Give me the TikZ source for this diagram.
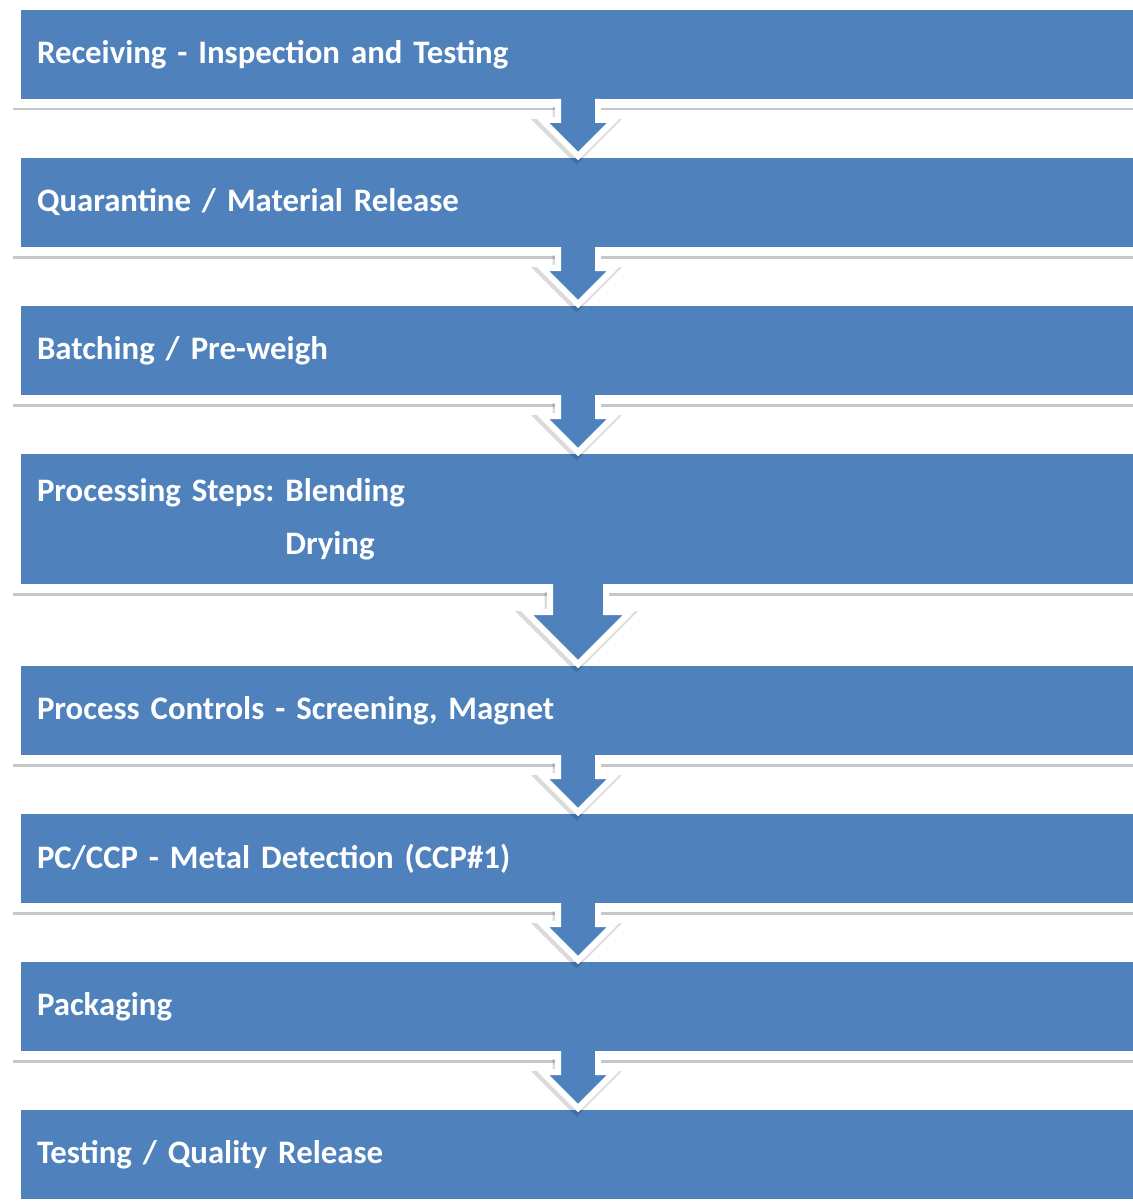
\documentclass[tikz,border=0pt]{standalone}
\usepackage{fontspec}
\setmainfont{Carlito}
\usetikzlibrary{calc,shadows}
\definecolor{boxblue}{RGB}{79,129,189}
\tikzset{
  stepbox/.style={rectangle, anchor=north west, fill=boxblue, draw=white,
    line width=9pt, minimum width=1123.5pt, minimum height=98pt,
    text width=1082.5pt, inner xsep=20.5pt, inner ysep=0pt, align=left,
    text=white, font=\fontsize{32.8}{53}\selectfont\bfseries\frenchspacing, outer sep=0pt,
    drop shadow={shadow xshift=-4pt, shadow yshift=-7pt, opacity=0.22, fill=black}},
  flowarrow/.style={fill=boxblue, draw=white, line width=6pt, line join=miter},
  arrowshadow/.style={draw=black, opacity=0.14, line width=8pt, line join=miter}
}
% from, to, shaft half width, head half width
\newcommand\flowarrow[4]{%
  \path[arrowshadow] let \p1=($(#1.south -| cx)+(-1.5,3.5)$),
                       \p2=($(#2.north -| cx)+(-1.5,5.5)$) in
    (\x1-#3pt,\y1) -- (\x1-#3pt,\y2+#4pt) -- (\x1-#4pt,\y2+#4pt) -- (\p2)
    -- (\x1+#4pt,\y2+#4pt) -- (\x1+#3pt,\y2+#4pt) -- (\x1+#3pt,\y1);
  \path[flowarrow] let \p1=($(#1.south -| cx)+(0,-4.5)$),
                       \p2=($(#2.north -| cx)+(0,2.5)$) in
    (\x1-#3pt,\y1) -- (\x1-#3pt,\y2+#4pt) -- (\x1-#4pt,\y2+#4pt) -- (\p2)
    -- (\x1+#4pt,\y2+#4pt) -- (\x1+#3pt,\y2+#4pt) -- (\x1+#3pt,\y1);
}
\begin{document}
\begin{tikzpicture}[x=1pt,y=-1pt]
\useasboundingbox (0,0) rectangle (1132,1201);
\coordinate (cx) at (578,0);
\node[stepbox] (b1) at (16.5,5.5) {Receiving - Inspection and Testing};
\node[stepbox] (b2) at (16.5,153.5) {Quarantine / Material Release};
\node[stepbox] (b3) at (16.5,301.5) {Batching / Pre-weigh};
\node[stepbox, minimum height=139pt] (b4) at (16.5,449.5) {Processing Steps: Blending\\\phantom{Processing Steps: }Drying};
\node[stepbox] (b5) at (16.5,661.5) {Process Controls - Screening, Magnet};
\node[stepbox] (b6) at (16.5,809.5) {PC/CCP - Metal Detection (CCP\#1)};
\node[stepbox] (b7) at (16.5,957.5) {Packaging};
\node[stepbox] (b8) at (16.5,1105.5) {Testing / Quality Release};
\flowarrow{b1}{b2}{20}{36}
\flowarrow{b2}{b3}{20}{36}
\flowarrow{b3}{b4}{20}{36}
\flowarrow{b4}{b5}{28}{52}
\flowarrow{b5}{b6}{20}{36}
\flowarrow{b6}{b7}{20}{36}
\flowarrow{b7}{b8}{20}{36}
\end{tikzpicture}
\end{document}
